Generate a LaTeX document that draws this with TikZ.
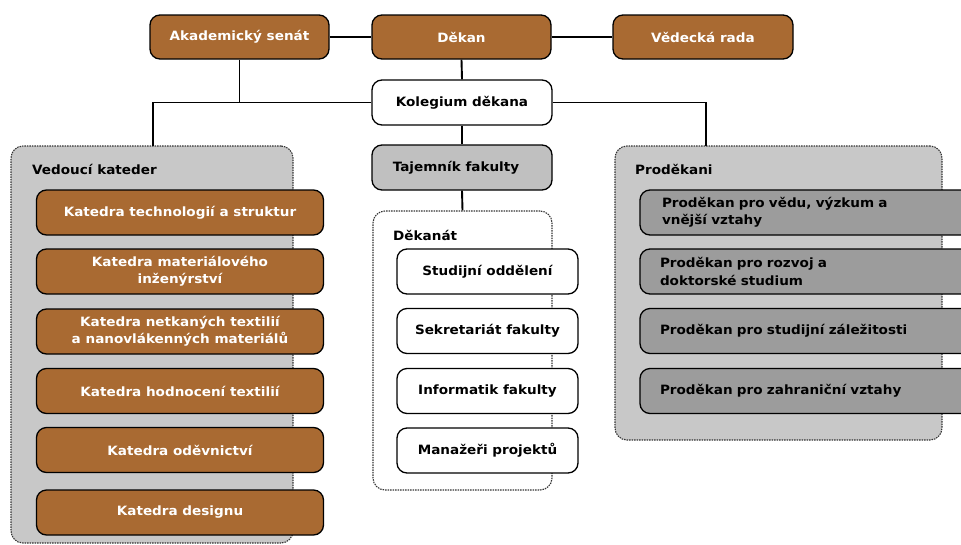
\documentclass[tikz,border=0pt]{standalone}
\usepackage{fontspec}
\setmainfont{DejaVu Sans}[FakeStretch=1.06]
\definecolor{brn}{HTML}{A96A32}
\definecolor{contgray}{HTML}{C8C8C8}
\definecolor{tajgray}{HTML}{C0C0C0}
\definecolor{pdgray}{HTML}{9C9C9C}
\begin{document}
\begin{tikzpicture}[x=1pt,y=-1pt,
  box/.style={draw=black, line width=1.3pt, rounded corners=10pt, minimum height=45pt,
    inner sep=0pt, font=\fontsize{12.8}{17.5}\selectfont\bfseries, align=center},
  brownbox/.style={box, fill=brn, text=white},
  whitebox/.style={box, fill=white, text=black},
  graybox/.style={box, fill=tajgray, text=black},
  pdbox/.style={box, fill=pdgray, text=black, minimum width=350pt, text width=310pt, align=left, inner xsep=20pt},
  cont/.style={draw=black!80, dash pattern=on 1.5pt off 1pt, line width=1.1pt, rounded corners=12pt, inner sep=0pt},
  lbl/.style={anchor=west, inner sep=0pt, font=\fontsize{12.8}{15}\selectfont\bfseries},
  conn/.style={draw=black, line width=1.9pt}]
\useasboundingbox (0,0) rectangle (961,544);
\clip (0,0) rectangle (961,544);
\fill[white] (0,0) rectangle (961,544);

% containers
\node[cont, fill=contgray, minimum width=282pt, minimum height=397pt] (vk) at (152,344.5) {};
\node[cont, fill=white, minimum width=179pt, minimum height=279pt] (dk) at (462.5,350.5) {};
\node[cont, fill=contgray, minimum width=327pt, minimum height=294pt] (pd) at (778.5,293) {};
\node[lbl] (vkl) at (32,169) {Vedoucí kateder};
\node[lbl] (dkl) at (393,235) {Děkanát};
\node[lbl] (pdl) at (635,169) {Proděkani};

% top
\node[brownbox, minimum width=179pt, minimum height=44pt] (as) at (239.5,37) {Akademický senát};
\node[brownbox, minimum width=179pt, minimum height=44pt] (dekan) at (461.5,37) {Děkan};
\node[brownbox, minimum width=180pt, minimum height=44pt] (vr) at (703,37) {Vědecká rada};
\node[whitebox, minimum width=180pt] (kol) at (462,102.5) {Kolegium děkana};
\node[graybox, minimum width=180pt] (taj) at (462,167.5) {\hspace*{-12pt}Tajemník fakulty};

% katedry
\foreach \n/\y/\t in {k1/212.5/{Katedra technologií a struktur},
                      k2/271.5/{Katedra materiálového\\inženýrství},
                      k3/331.5/{Katedra netkaných textilií\\a nanovlákenných materiálů},
                      k4/391/{Katedra hodnocení textilií},
                      k5/450/{Katedra oděvnictví},
                      k6/512.5/{Katedra designu}}
  \node[brownbox, minimum width=287pt] (\n) at (180,\y) {\t};

% dekanat
\foreach \n/\y/\t in {d1/271.5/{Studijní oddělení},
                      d2/331/{Sekretariát fakulty},
                      d3/391/{Informatik fakulty},
                      d4/450.5/{Manažeři projektů}}
  \node[whitebox, minimum width=181pt] (\n) at (487.5,\y) {\t};

% prodekani
\foreach \n/\y/\t in {p1/212.5/{\hspace*{2pt}Proděkan pro vědu, výzkum a\\\hspace*{2pt}vnější vztahy},
                      p2/271.5/{Proděkan pro rozvoj a\\doktorské studium},
                      p3/331/{Proděkan pro studijní záležitosti},
                      p4/391/{Proděkan pro zahraniční vztahy}}
  \node[pdbox] (\n) at (815,\y) {\t};

% connectors
\coordinate (vktop) at (153,146);
\coordinate (pdtop) at (706,146);
\draw[conn] (as.east) -- (dekan.west);
\draw[conn] (dekan.east) -- (vr.west);
\draw[conn] (dekan.south) -- (kol.north);
\draw[conn] (kol.west) -| (vktop);
\draw[conn] (as.south) -- (as.south |- kol.west);
\draw[conn] (kol.east) -| (pdtop);
\draw[conn] (kol.south) -- (taj.north);
\draw[conn] (taj.south) -- (dk.north);
\end{tikzpicture}
\end{document}
